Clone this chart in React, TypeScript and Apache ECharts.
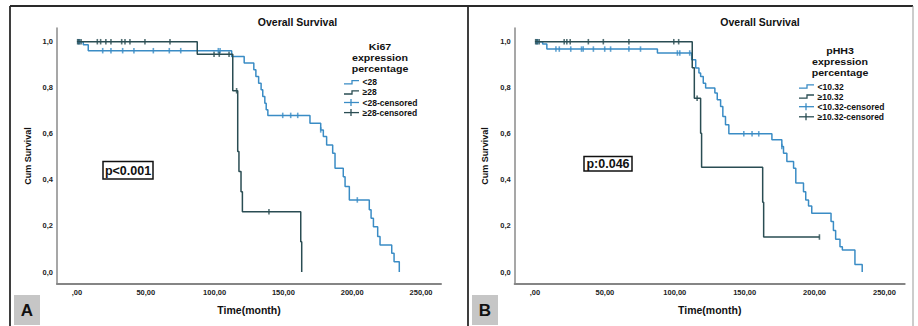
import React, { useEffect, useRef } from 'react';
import * as echarts from 'echarts';

const BLUE = '#3a8cc5';
const DARK = '#2a4d53';
const FONT = '"Liberation Sans", Arial, sans-serif';

const ticksX = [0, 50, 100, 150, 200, 250];
const ticksY = [0, 0.2, 0.4, 0.6, 0.8, 1.0];

// Panel A – Ki67 expression percentage
const aLegendTitle = ['Ki67', 'expression', 'percentage'];
const aLegendLabels = ['<28', '≥28', '<28-censored', '≥28-censored'];
const aLowSurvival: [number, number][] = [
  [0, 1], [4.6, 0.987], [8.2, 0.961], [112.4, 0.936], [121.5, 0.907], [128.5, 0.878],
  [130, 0.849], [132, 0.82], [133.8, 0.791], [135, 0.762], [136.5, 0.733], [137.5, 0.704],
  [138.7, 0.68], [169.3, 0.646], [177.1, 0.617], [179, 0.588], [181.4, 0.552], [185.8, 0.516],
  [187.5, 0.451], [193.5, 0.414], [194.8, 0.371], [197.9, 0.313], [212.4, 0.27], [213.7, 0.233],
  [215.4, 0.197], [218.5, 0.154], [220.2, 0.117], [228.7, 0.081], [230.4, 0.045], [234.2, 0],
];
const aLowCensored: [number, number][] = [
  [1, 1], [2, 1], [18.7, 0.961], [24.7, 0.961], [33.2, 0.961], [41.4, 0.961], [55.5, 0.961],
  [67.1, 0.961], [75.4, 0.961], [102.7, 0.961], [104, 0.961], [149.5, 0.68], [155.3, 0.68],
  [160.4, 0.68], [177.1, 0.617], [203.7, 0.313],
];
const aHighSurvival: [number, number][] = [
  [0, 1], [87.4, 0.946], [113.2, 0.787], [116.8, 0.523], [117.7, 0.436], [119.2, 0.349],
  [120.2, 0.262], [162.6, 0.131], [163.3, 0],
];
const aHighCensored: [number, number][] = [
  [0.5, 1], [1.5, 1], [3, 1], [14.8, 1], [17.2, 1], [21, 1], [24.7, 1], [32.5, 1], [34.9, 1],
  [38.5, 1], [49.4, 1], [67.6, 1], [99.6, 0.946], [103.4, 0.946], [110.5, 0.946], [116, 0.787],
  [139.5, 0.262],
];

// Panel B – pHH3 expression percentage
const bLegendTitle = ['pHH3', 'expression', 'percentage'];
const bLegendLabels = ['<10.32', '≥10.32', '<10.32-censored', '≥10.32-censored'];
const bLowSurvival: [number, number][] = [
  [0, 1], [5.5, 0.99], [8.5, 0.968], [87.6, 0.951], [112.1, 0.922], [115, 0.886], [117.3, 0.864],
  [118.5, 0.849], [120.4, 0.82], [122.1, 0.799], [128.7, 0.777], [130.4, 0.748], [132.8, 0.719],
  [134.4, 0.675], [136.3, 0.639], [138.7, 0.6], [169.5, 0.574], [176.6, 0.545], [177.8, 0.516],
  [180.2, 0.48], [185, 0.451], [186.6, 0.386], [192.1, 0.349], [193.7, 0.313], [195.7, 0.287],
  [198, 0.255], [211.8, 0.219], [213.5, 0.18], [215.1, 0.142], [218.2, 0.11], [219.9, 0.095],
  [228.9, 0.033], [234.1, 0],
];
const bLowCensored: [number, number][] = [
  [1, 1], [2, 1], [15, 0.968], [17.4, 0.968], [25.6, 0.968], [33.3, 0.968], [34.5, 0.968],
  [41.8, 0.968], [49.9, 0.968], [54.1, 0.968], [67.2, 0.968], [75.5, 0.968], [101.9, 0.951],
  [103.6, 0.951], [110.7, 0.951], [149.4, 0.6], [155.3, 0.6], [160.1, 0.6], [176.6, 0.545],
];
const bHighSurvival: [number, number][] = [
  [0, 1], [112.5, 0.887], [114, 0.755], [118.5, 0.603], [119.2, 0.455], [162.9, 0.303],
  [163.6, 0.152], [203.5, 0.152],
];
const bHighCensored: [number, number][] = [
  [0.5, 1], [1.5, 1], [3, 1], [20.9, 1], [22.8, 1], [25.2, 1], [38.2, 1], [48.9, 1], [67.2, 1],
  [99.3, 1], [102.8, 1], [116, 0.755], [203.5, 0.152],
];

const fmtX = (v: number) => (v === 0 ? ',00' : v.toFixed(2).replace('.', ','));
const fmtY = (v: number) => v.toFixed(1).replace('.', ',');

function txt(x: number, y: number, text: string, font: string, align = 'center', el: any = {}) {
  return {
    type: 'text', x, y, ...el,
    style: { text, font, fill: '#111', textAlign: align, align, textVerticalAlign: 'middle', verticalAlign: 'middle' },
  };
}

function legendGraphics(x0: number, y0: number, cx: number, ty0: number, title: string[], labels: string[]) {
  const colors = [BLUE, DARK, BLUE, DARK];
  const out: any[] = [];
  title.forEach((t, i) => out.push(txt(cx, ty0 + i * 10.6, t, `bold 9.3px ${FONT}`, 'center', { scaleX: 1.14 })));
  labels.forEach((lab, i) => {
    const y = y0 + i * 10.1;
    const c = colors[i];
    if (i < 2) {
      out.push({
        type: 'polyline',
        shape: { points: [[x0, y + 1.6], [x0 + 8, y + 1.6], [x0 + 8, y - 1.6], [x0 + 15, y - 1.6]] },
        style: { stroke: c, lineWidth: 1.3, fill: 'none' },
      });
    } else {
      out.push({ type: 'line', shape: { x1: x0, y1: y, x2: x0 + 15, y2: y }, style: { stroke: c, lineWidth: 1.3 } });
      out.push({ type: 'line', shape: { x1: x0 + 7, y1: y - 3.5, x2: x0 + 7, y2: y + 3.5 }, style: { stroke: c, lineWidth: 1.3 } });
    }
    out.push(txt(x0 + 18.5, y, lab, `bold 8.5px ${FONT}`, 'left'));
  });
  return out;
}

function pBox(x: number, y: number, w: number, h: number, text: string) {
  return [
    { type: 'rect', shape: { x, y, width: w, height: h }, style: { fill: '#fff', stroke: '#111', lineWidth: 1.5 } },
    txt(x + w / 2, y + h / 2 + 0.5, text, `bold 12.5px ${FONT}`),
  ];
}

function panelLabel(x: number, text: string) {
  return [
    { type: 'rect', shape: { x, y: 295, width: 26, height: 30 }, style: { fill: '#c6c6c6' } },
    txt(x + 13, 310, text, `bold 17px ${FONT}`),
  ];
}

function xAxis(gridIndex: number) {
  return {
    type: 'value', gridIndex, min: -14.5, max: 264.5,
    axisLine: { onZero: false, lineStyle: { color: '#858585', width: 2 } },
    axisTick: { show: false },
    splitLine: { show: false },
    axisLabel: { customValues: ticksX, formatter: fmtX, fontSize: 7.5, fontWeight: 'bold', color: '#222', margin: 4, fontFamily: FONT },
    name: 'Time(month)', nameLocation: 'middle', nameGap: 20,
    nameTextStyle: { fontSize: 10.5, fontWeight: 'bold', color: '#111', fontFamily: FONT },
  };
}

function yAxis(gridIndex: number) {
  return {
    type: 'value', gridIndex, min: -0.0521, max: 1.0595,
    axisLine: { show: true, onZero: false, lineStyle: { color: '#8a8a8a', width: 1.5 } },
    axisTick: { show: false },
    splitLine: { show: false },
    axisLabel: { customValues: ticksY, formatter: fmtY, fontSize: 7.5, fontWeight: 'bold', color: '#222', margin: 4, fontFamily: FONT },
    name: 'Cum Survival', nameLocation: 'middle', nameGap: 25, nameRotate: 90,
    nameTextStyle: { fontSize: 9, fontWeight: 'bold', color: '#111', fontFamily: FONT },
  };
}

function lineSeries(name: string, data: [number, number][], color: string, idx: number) {
  return {
    name, type: 'line', step: 'end', data, xAxisIndex: idx, yAxisIndex: idx,
    showSymbol: false, symbol: 'none', lineStyle: { color, width: 1.5 }, itemStyle: { color },
  };
}

function censorSeries(name: string, data: [number, number][], color: string, idx: number) {
  return {
    name, type: 'scatter', data, xAxisIndex: idx, yAxisIndex: idx,
    symbol: 'rect', symbolSize: [1.6, 5.5], itemStyle: { color },
  };
}

export default function App() {
  const ref = useRef<HTMLDivElement>(null);
  useEffect(() => {
    if (!ref.current) return;
    const chart = echarts.init(ref.current, undefined, { renderer: 'svg' });
    const border = { stroke: '#2a2a2a', lineWidth: 1.8 };
    chart.setOption({
      animation: false,
      backgroundColor: '#fff',
      textStyle: { fontFamily: FONT },
      grid: [
        { left: 57, top: 28, width: 384, height: 256 },
        { left: 514.7, top: 28, width: 390, height: 256 },
      ],
      xAxis: [xAxis(0), xAxis(1)],
      yAxis: [yAxis(0), yAxis(1)],
      series: [
        lineSeries(aLegendLabels[0], aLowSurvival, BLUE, 0),
        lineSeries(aLegendLabels[1], aHighSurvival, DARK, 0),
        censorSeries(aLegendLabels[2], aLowCensored, BLUE, 0),
        censorSeries(aLegendLabels[3], aHighCensored, DARK, 0),
        lineSeries(bLegendLabels[0], bLowSurvival, BLUE, 1),
        lineSeries(bLegendLabels[1], bHighSurvival, DARK, 1),
        censorSeries(bLegendLabels[2], bLowCensored, BLUE, 1),
        censorSeries(bLegendLabels[3], bHighCensored, DARK, 1),
      ],
      graphic: [
        { type: 'line', shape: { x1: 10, y1: 6, x2: 913, y2: 6 }, style: border },
        { type: 'line', shape: { x1: 10, y1: 6, x2: 10, y2: 326 }, style: border },
        { type: 'line', shape: { x1: 468, y1: 6, x2: 468, y2: 326 }, style: border },
        { type: 'line', shape: { x1: 913, y1: 6, x2: 913, y2: 326 }, style: { stroke: '#999', lineWidth: 1 } },
        txt(297.5, 22, 'Overall Survival', `bold 10.5px ${FONT}`),
        txt(760, 22, 'Overall Survival', `bold 10.5px ${FONT}`),
        ...legendGraphics(344, 82.3, 380, 47.2, aLegendTitle, aLegendLabels),
        ...legendGraphics(799, 86.5, 840, 51.2, bLegendTitle, bLegendLabels),
        ...pBox(103, 161.5, 50, 17.5, 'p<0.001'),
        ...pBox(584, 156.5, 48, 14.5, 'p:0.046'),
        ...panelLabel(14, 'A'),
        ...panelLabel(472, 'B'),
      ],
    });
    return () => chart.dispose();
  }, []);
  return (
    <div
      ref={ref}
      style={{ position: 'fixed', left: 0, top: 0, width: 918, height: 326, background: '#fff' }}
    />
  );
}
